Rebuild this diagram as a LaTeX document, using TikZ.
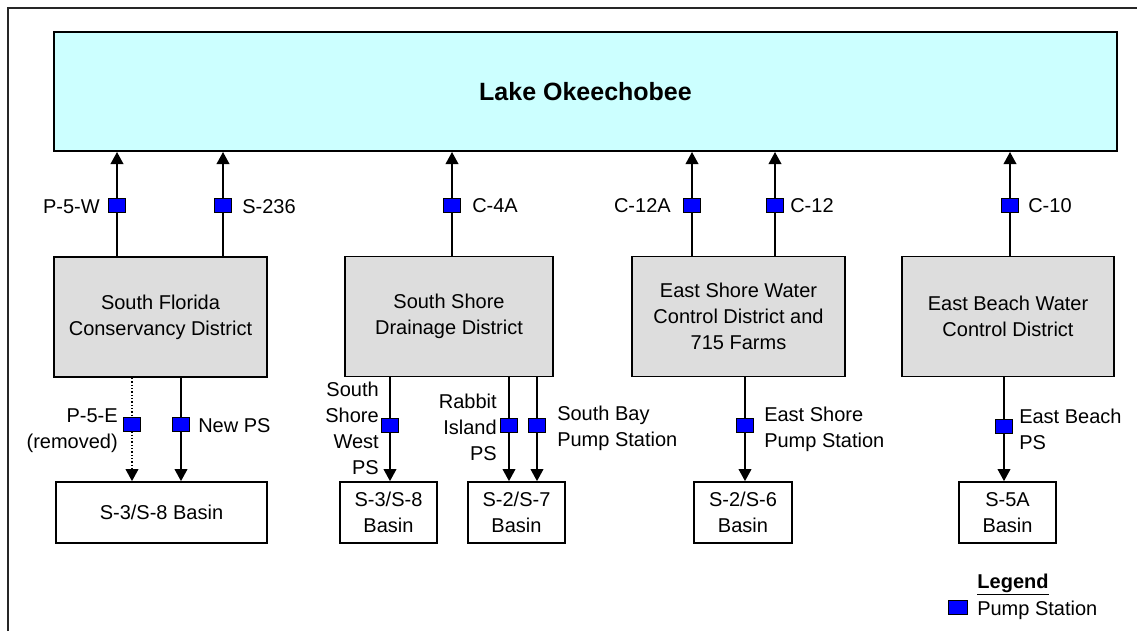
\documentclass[tikz,border=0pt]{standalone}
\usepackage{fontspec}
\setmainfont{Liberation Sans}
\usetikzlibrary{arrows.meta}
\definecolor{lakecyan}{HTML}{CCFFFF}
\definecolor{boxgray}{HTML}{DDDDDD}
\definecolor{pumpblue}{HTML}{0000FF}
\pgfdeclarelayer{bg}
\pgfdeclarelayer{paper}
\pgfsetlayers{paper,bg,main}
\begin{document}
\begin{tikzpicture}[x=0.75pt,y=-0.75pt,
  every node/.style={font=\fontsize{15}{19.5}\selectfont},
  lakebox/.style={draw=black,line width=1.5pt,fill=lakecyan,inner sep=0pt,
    minimum width=797.25pt,minimum height=89.25pt,
    font=\bfseries\fontsize{18.75}{22}\selectfont},
  district/.style={draw=black,line width=1.3pt,fill=boxgray,align=center,inner sep=0pt,
    minimum height=90pt},
  basin/.style={draw=black,line width=1.3pt,fill=white,align=center,inner sep=0pt,
    minimum height=45.75pt},
  pump/.style={draw=black,line width=0.6pt,fill=pumpblue,inner sep=0pt,
    minimum width=12.75pt,minimum height=10.5pt},
  lbl/.style={inner sep=0pt},
  arr/.style={line width=1.1pt,-{Triangle[width=9.5pt,length=9pt]}},
  dotarr/.style={line width=1.1pt,dash pattern=on 1.1pt off 1.4pt,-{Triangle[width=9.5pt,length=9pt]}}
]
\useasboundingbox (0,0) rectangle (1137,631);
\begin{pgfonlayer}{paper}
\fill[white] (0,0) rectangle (1137,631);
\end{pgfonlayer}
% outer frame
\draw[line width=1.2pt,draw=black!85] (8,631) -- (8,8) -- (1137,8);

% lake
\node[lakebox] (lake) at (585.5,91.5) {Lake Okeechobee};

% districts
\node[district,minimum width=159.75pt] (sfcd) at (160.5,317) {South Florida\\Conservancy District};
\node[district,minimum width=156pt] (ssdd) at (449,316.5) {South Shore\\Drainage District};
\node[district,minimum width=159.75pt] (eswcd) at (738.5,316.5) {East Shore Water\\Control District and\\715 Farms};
\node[district,minimum width=159pt] (ebwcd) at (1008,316.5) {East Beach Water\\Control District};

% basins
\node[basin,minimum width=158.25pt] (b1) at (161.5,512.5) {S-3/S-8 Basin};
\node[basin,minimum width=72.75pt] (b2) at (388.5,512.5) {S-3/S-8\\Basin};
\node[basin,minimum width=72.75pt] (b3) at (516.5,512.5) {S-2/S-7\\Basin};
\node[basin,minimum width=73.5pt] (b4) at (743,512.5) {S-2/S-6\\Basin};
\node[basin,minimum width=72.75pt] (b5) at (1007.5,512.5) {S-5A\\Basin};

% pump stations (upper)
\node[pump] (p5w) at (117,205) {};
\node[pump] (s236) at (223,205) {};
\node[pump] (c4a) at (452,205) {};
\node[pump] (c12a) at (692,205) {};
\node[pump] (c12) at (775,205) {};
\node[pump] (c10) at (1010,205) {};
% pump stations (lower)
\node[pump] (p5e) at (132,424) {};
\node[pump] (newps) at (181,424) {};
\node[pump] (sswps) at (390,425) {};
\node[pump] (ribps) at (509,425) {};
\node[pump] (sbps) at (537,425) {};
\node[pump] (esps) at (745,425) {};
\node[pump] (ebps) at (1004,426) {};

% connectors
\begin{pgfonlayer}{bg}
\draw[arr] (sfcd.north -| p5w) -- (lake.south -| p5w);
\draw[arr] (sfcd.north -| s236) -- (lake.south -| s236);
\draw[arr] (ssdd.north -| c4a) -- (lake.south -| c4a);
\draw[arr] (eswcd.north -| c12a) -- (lake.south -| c12a);
\draw[arr] (eswcd.north -| c12) -- (lake.south -| c12);
\draw[arr] (ebwcd.north -| c10) -- (lake.south -| c10);
\draw[dotarr] (sfcd.south -| p5e) -- (b1.north -| p5e);
\draw[arr] (sfcd.south -| newps) -- (b1.north -| newps);
\draw[arr] (ssdd.south -| sswps) -- (b2.north -| sswps);
\draw[arr] (ssdd.south -| ribps) -- (b3.north -| ribps);
\draw[arr] (ssdd.south -| sbps) -- (b3.north -| sbps);
\draw[arr] (eswcd.south -| esps) -- (b4.north -| esps);
\draw[arr] (ebwcd.south -| ebps) -- (b5.north -| ebps);
\end{pgfonlayer}

% labels (upper)
\node[lbl,anchor=east] (lp5w) at (100,207) {P-5-W};
\node[lbl,anchor=west] (ls236) at (242,207) {S-236};
\node[lbl,anchor=west] (lc4a) at (472,206) {C-4A};
\node[lbl,anchor=east] (lc12a) at (671,206) {C-12A};
\node[lbl,anchor=west] (lc12) at (790,206) {C-12};
\node[lbl,anchor=west] (lc10) at (1028,206) {C-10};
% labels (lower)
\node[lbl,anchor=east,align=right] (lp5e) at (118,430.5) {P-5-E\\(removed)};
\node[lbl,anchor=west] (lnewps) at (198,426) {New PS};
\node[lbl,anchor=east,align=right] (lssw) at (379,428.5) {South\\Shore\\West\\PS};
\node[lbl,anchor=east,align=right] (lrib) at (497,427) {Rabbit\\Island\\PS};
\node[lbl,anchor=west,align=left] (lsb) at (557,428.5) {South Bay\\Pump Station};
\node[lbl,anchor=west,align=left] (les) at (764,429) {East Shore\\Pump Station};
\node[lbl,anchor=west,align=left] (leb) at (1019,429) {East Beach\\PS};

% legend
\node[lbl,font=\bfseries\fontsize{15}{19.5}\selectfont] (legtitle) at (1013,583) {Legend};
\draw[line width=1pt] ([yshift=-1.5pt]legtitle.south west) -- ([yshift=-1.5pt]legtitle.south east);
\node[pump,minimum width=14.25pt] (legpump) at (957.5,607.5) {};
\node[lbl,anchor=west] (legtext) at (977,610) {Pump Station};
\end{tikzpicture}
\end{document}
